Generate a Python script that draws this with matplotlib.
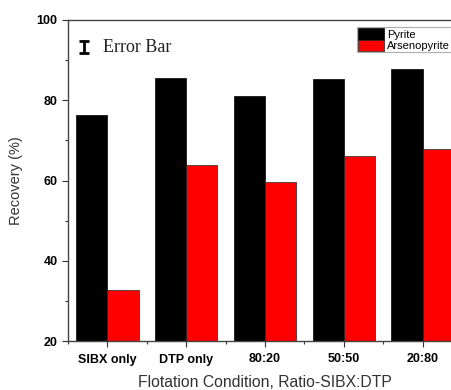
import numpy as np
import matplotlib
matplotlib.use('Agg')
import matplotlib.pyplot as plt
from matplotlib.ticker import MultipleLocator

conditions = ['SIBX only', 'DTP only', '80:20', '50:50', '20:80']
pyrite = [76.3, 85.6, 81.1, 85.3, 87.8]
arsenopyrite = [32.6, 63.8, 59.6, 66.0, 67.8]

plt.rcParams['font.family'] = 'Liberation Sans'

fig = plt.figure(figsize=(4.51, 3.90), dpi=100)
ax = fig.add_axes([68 / 451, 49 / 390, 394 / 451, 321 / 390])

x = np.arange(len(conditions))
w = 0.395
ax.bar(x - w / 2, pyrite, w, color='black', edgecolor='black', linewidth=0.5, label='Pyrite')
ax.bar(x + w / 2, arsenopyrite, w, color='#ff0000', edgecolor='#222222', linewidth=0.5, label='Arsenopyrite')

ax.set_xlim(-0.5, len(conditions) - 0.5)
ax.set_ylim(20, 100)
ax.set_xticks(x)
ax.set_xticklabels(conditions, fontweight='bold', fontsize=9)
ax.xaxis.set_minor_locator(MultipleLocator(1, offset=0.5))
ax.yaxis.set_major_locator(MultipleLocator(20))
ax.yaxis.set_minor_locator(MultipleLocator(10))
for lab in ax.get_yticklabels():
    lab.set_fontweight('bold')
    lab.set_fontsize(9)
ax.tick_params(which='major', direction='out', length=4, width=0.8, color='#333333')
ax.tick_params(axis='x', which='major', pad=5)
ax.tick_params(which='minor', direction='out', length=2.5, width=0.8, color='#333333')
for s in ax.spines.values():
    s.set_color('#444444')
    s.set_linewidth(1.0)

ax.set_xlabel('Flotation Condition, Ratio-SIBX:DTP', fontsize=11.3, color='#333333', labelpad=7)
ax.set_ylabel('Recovery (%)', fontsize=10.5, color='#333333', labelpad=10)

# error bar key (symbol drawn as an I-beam)
kw = dict(transform=ax.transAxes, color='black', lw=2, clip_on=False, solid_capstyle='butt')
ax.plot([0.0406, 0.0406], [0.897, 0.935], **kw)
ax.plot([0.028, 0.053], [0.935, 0.935], **kw)
ax.plot([0.028, 0.053], [0.897, 0.897], **kw)
ax.text(0.089, 0.913, 'Error Bar', transform=ax.transAxes, family='Liberation Serif',
        fontsize=13, va='center', ha='left', color='#222222')

leg = ax.legend(loc='upper left', bbox_to_anchor=(357 / 451, 1 - 27 / 390),
                bbox_transform=fig.transFigure, fontsize=8, frameon=True,
                fancybox=False, borderpad=0.1, labelspacing=0.0, handlelength=2.35,
                handleheight=1.2, handletextpad=0.25, borderaxespad=0)
leg.get_frame().set_edgecolor('#999999')
leg.get_frame().set_linewidth(0.8)

fig.savefig('out.png', dpi=100)
